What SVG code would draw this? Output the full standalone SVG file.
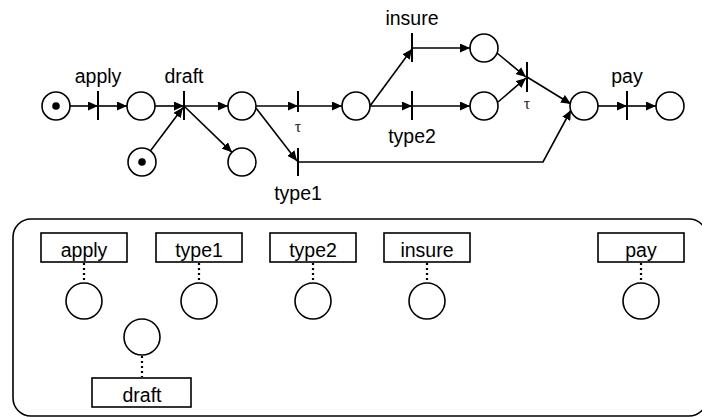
<svg xmlns="http://www.w3.org/2000/svg" width="702" height="417" viewBox="0 0 702 417">
<style>
.pl{fill:#fff;stroke:#000;stroke-width:1.6}
.tr{stroke:#000;stroke-width:2}
.arc{fill:none;stroke:#000;stroke-width:1.6;marker-end:url(#ah)}
.tok{fill:#000}
.lbl{font-family:"Liberation Sans",Arial,sans-serif;font-size:19.5px;fill:#000;text-anchor:middle}
.tau{font-family:"Liberation Serif","Times New Roman",serif;font-size:16px;fill:#222;text-anchor:middle}
.box{fill:#fff;stroke:#000;stroke-width:1.6}
.dot{stroke:#000;stroke-width:2.2;stroke-dasharray:2 3;fill:none}
</style>
<defs>
<marker id="ah" markerUnits="userSpaceOnUse" markerWidth="11" markerHeight="9" refX="10" refY="4.5" orient="auto">
<path d="M0,0 L10,4.5 L0,9 z" fill="#000"/>
</marker>
</defs>
<rect width="702" height="417" fill="#fff"/>

<g id="connectors">
<line class="arc" x1="70" y1="106" x2="98" y2="106"/>
<line class="arc" x1="98" y1="106" x2="127" y2="106"/>
<line class="arc" x1="155" y1="106" x2="184" y2="106"/>
<line class="arc" x1="184" y1="106" x2="228" y2="106"/>
<line class="arc" x1="150.5" y1="150.8" x2="183" y2="107.5"/>
<line class="arc" x1="184" y1="106" x2="232" y2="152.3"/>
<line class="arc" x1="256" y1="106" x2="298" y2="106"/>
<line class="arc" x1="256" y1="108" x2="297" y2="161"/>
<line class="arc" x1="298" y1="106" x2="342" y2="106"/>
<line class="arc" x1="370" y1="106" x2="412" y2="49"/>
<line class="arc" x1="370" y1="106" x2="412" y2="106"/>
<line class="arc" x1="412" y1="48" x2="470" y2="48"/>
<line class="arc" x1="412" y1="106" x2="470" y2="106"/>
<line class="arc" x1="497" y1="53" x2="526" y2="77"/>
<line class="arc" x1="498" y1="102" x2="526" y2="78"/>
<line class="arc" x1="527" y1="77" x2="571" y2="104"/>
<polyline class="arc" points="298,162 543,162 571,110"/>
<line class="arc" x1="598" y1="106" x2="627" y2="106"/>
<line class="arc" x1="627" y1="106" x2="656" y2="106"/>
</g>

<g id="p0"><circle class="pl" cx="56" cy="106" r="14"/><circle class="tok" cx="56" cy="106" r="3.8"/></g>
<g id="t_apply"><line class="tr" x1="98" y1="91" x2="98" y2="120"/><text class="lbl" x="98" y="83">apply</text></g>
<g id="p1"><circle class="pl" cx="141" cy="106" r="14"/></g>
<g id="p_tok"><circle class="pl" cx="142" cy="162" r="14"/><circle class="tok" cx="142" cy="162" r="3.8"/></g>
<g id="t_draft"><line class="tr" x1="184" y1="91" x2="184" y2="120"/><text class="lbl" x="184" y="83">draft</text></g>
<g id="p2"><circle class="pl" cx="242" cy="106" r="14"/></g>
<g id="p_draft_out"><circle class="pl" cx="242" cy="162" r="14"/></g>
<g id="t_tau1"><line class="tr" x1="298" y1="91" x2="298" y2="112"/><text class="tau" x="298" y="132">τ</text></g>
<g id="t_type1"><line class="tr" x1="298" y1="148" x2="298" y2="176"/><text class="lbl" x="298" y="200">type1</text></g>
<g id="p3"><circle class="pl" cx="356" cy="106" r="14"/></g>
<g id="t_insure"><line class="tr" x1="412" y1="33" x2="412" y2="62"/><text class="lbl" x="412" y="25">insure</text></g>
<g id="t_type2"><line class="tr" x1="412" y1="91" x2="412" y2="120"/><text class="lbl" x="412" y="143">type2</text></g>
<g id="p4"><circle class="pl" cx="484" cy="48" r="14"/></g>
<g id="p5"><circle class="pl" cx="484" cy="106" r="14"/></g>
<g id="t_tau2"><line class="tr" x1="527" y1="62" x2="527" y2="92"/><text class="tau" x="527" y="109">τ</text></g>
<g id="p6"><circle class="pl" cx="584" cy="106" r="14"/></g>
<g id="t_pay"><line class="tr" x1="627" y1="91" x2="627" y2="120"/><text class="lbl" x="627" y="83">pay</text></g>
<g id="p7"><circle class="pl" cx="670" cy="106" r="14"/></g>

<g id="panel"><rect x="13" y="219" width="694" height="197" rx="18" ry="18" fill="none" stroke="#000" stroke-width="1.6"/></g>

<g id="b_apply"><line class="dot" x1="84" y1="263" x2="84" y2="283"/><rect class="box" x="41" y="233" width="86" height="29"/><text class="lbl" x="84" y="257">apply</text><circle class="pl" cx="84" cy="301" r="18"/></g>
<g id="b_type1"><line class="dot" x1="199" y1="263" x2="199" y2="283"/><rect class="box" x="156" y="233" width="86" height="29"/><text class="lbl" x="199" y="257">type1</text><circle class="pl" cx="199" cy="301" r="18"/></g>
<g id="b_type2"><line class="dot" x1="313" y1="263" x2="313" y2="283"/><rect class="box" x="270" y="233" width="86" height="29"/><text class="lbl" x="313" y="257">type2</text><circle class="pl" cx="313" cy="301" r="18"/></g>
<g id="b_insure"><line class="dot" x1="427" y1="263" x2="427" y2="283"/><rect class="box" x="384" y="233" width="86" height="29"/><text class="lbl" x="427" y="257">insure</text><circle class="pl" cx="427" cy="301" r="18"/></g>
<g id="b_pay"><line class="dot" x1="641" y1="263" x2="641" y2="283"/><rect class="box" x="598" y="233" width="86" height="29"/><text class="lbl" x="641" y="257">pay</text><circle class="pl" cx="641" cy="301" r="18"/></g>
<g id="b_draft"><line class="dot" x1="142" y1="356" x2="142" y2="377"/><circle class="pl" cx="142" cy="337" r="18"/><rect class="box" x="92" y="378" width="99" height="29"/><text class="lbl" x="142" y="402">draft</text></g>
</svg>
